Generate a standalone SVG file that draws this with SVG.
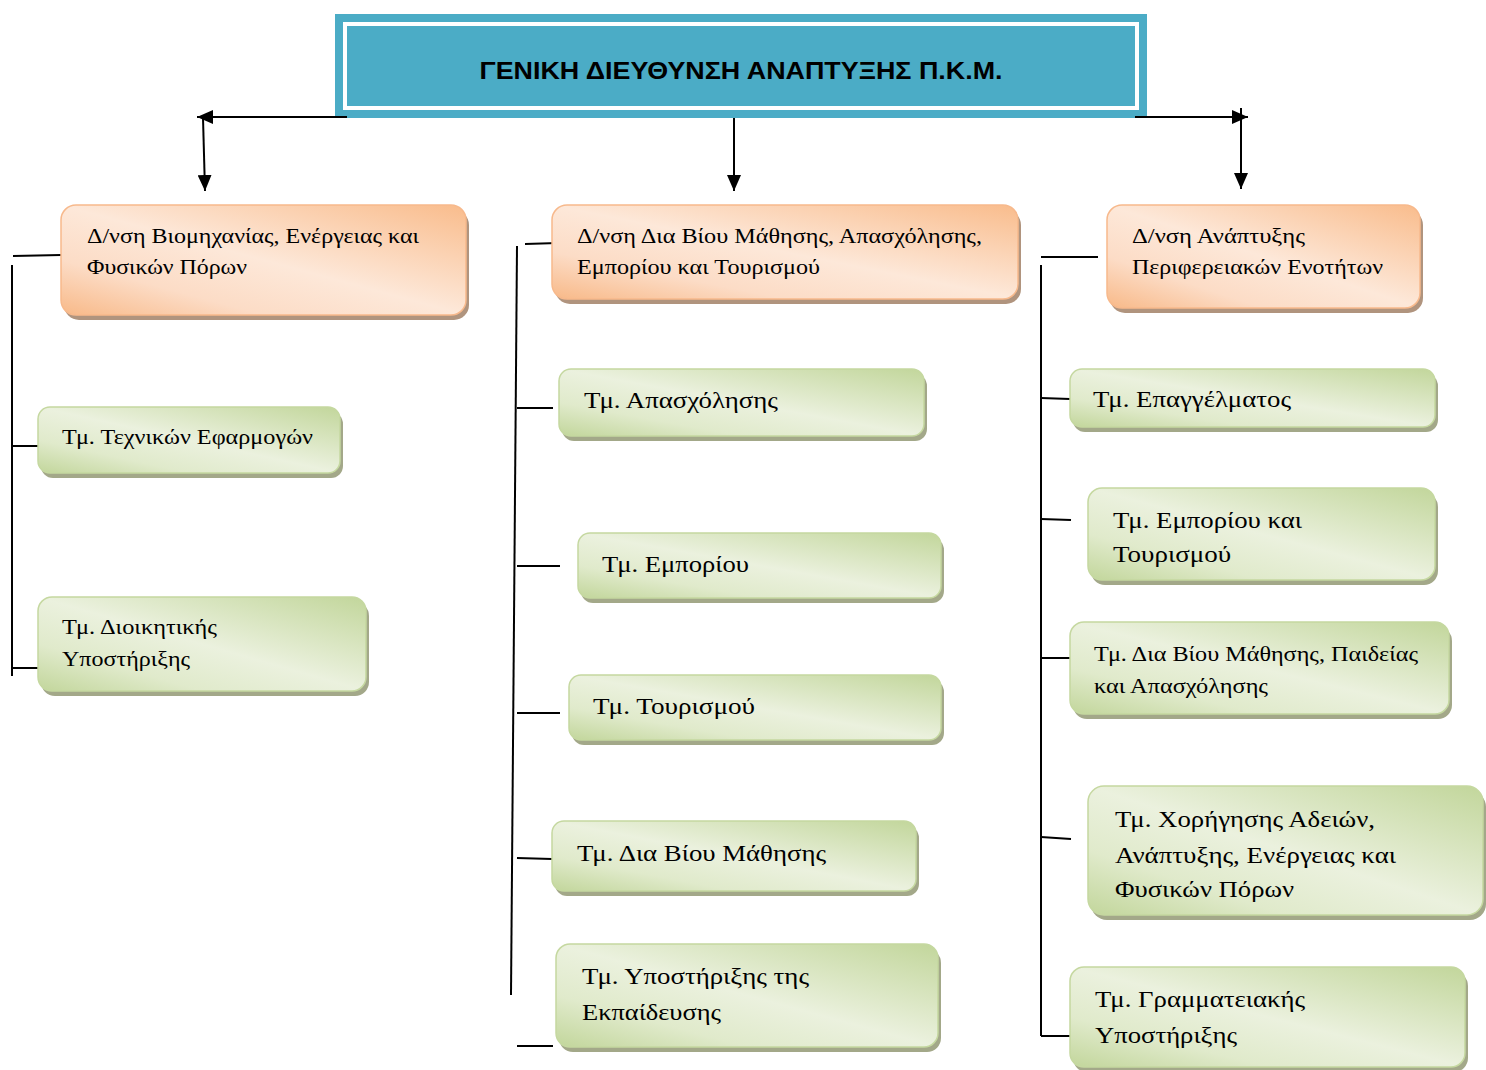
<svg xmlns="http://www.w3.org/2000/svg" width="1486" height="1070" viewBox="0 0 1486 1070">
<defs>
<linearGradient id="og" x1="1" y1="0" x2="0" y2="1">
<stop offset="0" stop-color="#f9bc8c"/>
<stop offset="0.5" stop-color="#fde8d9"/>
<stop offset="0.75" stop-color="#fcdcc6"/>
<stop offset="1" stop-color="#f8b988"/>
</linearGradient>
<linearGradient id="gg" x1="1" y1="0" x2="0" y2="1">
<stop offset="0" stop-color="#c2d69b"/>
<stop offset="0.5" stop-color="#ebf1de"/>
<stop offset="0.75" stop-color="#e0eacb"/>
<stop offset="1" stop-color="#c2d69b"/>
</linearGradient>
<marker id="ah" viewBox="0 0 16 14" refX="16" refY="7" markerWidth="16" markerHeight="14" markerUnits="userSpaceOnUse" orient="auto">
<path d="M0,0 L16,7 L0,14 z" fill="#000"/>
</marker>
<style>
.os{fill:#b0947e}
.ob{fill:url(#og);stroke:#f7b98c;stroke-width:1.5}
.gs{fill:#a3a889}
.gb{fill:url(#gg);stroke:#c5d8a0;stroke-width:1.5}
.t{font-family:"Liberation Serif","Times New Roman",serif;fill:#000}
.s21{font-size:21.5px}
.s22{font-size:22px}
.s24{font-size:24px}
.c{stroke:#000;stroke-width:2;fill:none}
.ar{marker-end:url(#ah)}
</style>
</defs>
<rect width="1486" height="1070" fill="#fff"/>

<g id="header">
<rect x="335" y="14" width="812" height="104" fill="#4bacc6"/>
<rect x="345" y="24" width="792" height="84" fill="none" stroke="#fff" stroke-width="4"/>
<text x="741" y="78.5" text-anchor="middle" font-family="'Liberation Sans',Arial,sans-serif" font-weight="bold" font-size="23" textLength="523" lengthAdjust="spacingAndGlyphs">ΓΕΝΙΚΗ ΔΙΕΥΘΥΝΣΗ ΑΝΑΠΤΥΞΗΣ Π.Κ.Μ.</text>
</g>

<g id="connectors">
<line class="c ar" x1="347" y1="117" x2="197" y2="117"/>
<line class="c ar" x1="203" y1="118" x2="205" y2="191"/>
<line class="c ar" x1="734" y1="118" x2="734" y2="191"/>
<line class="c ar" x1="1135" y1="117" x2="1248" y2="117"/>
<line class="c ar" x1="1241" y1="108" x2="1241" y2="189"/>
<line class="c" x1="13" y1="256" x2="61" y2="255"/>
<line class="c" x1="12" y1="265" x2="12" y2="676"/>
<line class="c" x1="12" y1="446" x2="38" y2="446"/>
<line class="c" x1="12" y1="668" x2="38" y2="668"/>
<line class="c" x1="517" y1="246" x2="511" y2="995"/>
<line class="c" x1="525" y1="244" x2="558" y2="243"/>
<line class="c" x1="517" y1="408" x2="553" y2="408"/>
<line class="c" x1="517" y1="566" x2="560" y2="566"/>
<line class="c" x1="517" y1="713" x2="560" y2="713"/>
<line class="c" x1="517" y1="858" x2="552" y2="859"/>
<line class="c" x1="517" y1="1046" x2="553" y2="1046"/>
<line class="c" x1="1041" y1="265" x2="1041" y2="1036"/>
<line class="c" x1="1041" y1="257" x2="1098" y2="257"/>
<line class="c" x1="1041" y1="398" x2="1070" y2="399"/>
<line class="c" x1="1041" y1="519" x2="1071" y2="520"/>
<line class="c" x1="1041" y1="658" x2="1070" y2="658"/>
<line class="c" x1="1041" y1="837" x2="1071" y2="839"/>
<line class="c" x1="1041" y1="1036" x2="1070" y2="1036"/>
</g>

<g id="dir-industry">
<rect class="os" x="64" y="210" width="405" height="110" rx="15"/>
<rect class="ob" x="61" y="205" width="405" height="110" rx="15"/>
<text class="t s21" x="87" y="243" textLength="332" lengthAdjust="spacingAndGlyphs">Δ/νση Βιομηχανίας, Ενέργειας και</text>
<text class="t s21" x="87" y="274" textLength="160" lengthAdjust="spacingAndGlyphs">Φυσικών Πόρων</text>
</g>

<g id="dir-lifelong">
<rect class="os" x="555" y="210" width="466" height="94" rx="15"/>
<rect class="ob" x="552" y="205" width="466" height="94" rx="15"/>
<text class="t s21" x="577" y="243" textLength="405" lengthAdjust="spacingAndGlyphs">Δ/νση Δια Βίου Μάθησης, Απασχόλησης,</text>
<text class="t s21" x="577" y="274" textLength="243" lengthAdjust="spacingAndGlyphs">Εμπορίου και Τουρισμού</text>
</g>

<g id="dir-regional">
<rect class="os" x="1110" y="210" width="313" height="103" rx="15"/>
<rect class="ob" x="1107" y="205" width="313" height="103" rx="15"/>
<text class="t s21" x="1132" y="243" textLength="173" lengthAdjust="spacingAndGlyphs">Δ/νση Ανάπτυξης</text>
<text class="t s21" x="1132" y="274" textLength="251" lengthAdjust="spacingAndGlyphs">Περιφερειακών Ενοτήτων</text>
</g>

<g id="tm-technical">
<rect class="gs" x="41" y="412" width="302" height="66" rx="12"/>
<rect class="gb" x="38" y="407" width="302" height="66" rx="12"/>
<text class="t s21" x="62" y="444" textLength="251" lengthAdjust="spacingAndGlyphs">Τμ. Τεχνικών Εφαρμογών</text>
</g>

<g id="tm-admin">
<rect class="gs" x="41" y="602" width="328" height="94" rx="14"/>
<rect class="gb" x="38" y="597" width="328" height="94" rx="14"/>
<text class="t s21" x="62" y="634" textLength="155" lengthAdjust="spacingAndGlyphs">Τμ. Διοικητικής</text>
<text class="t s21" x="62" y="666" textLength="128" lengthAdjust="spacingAndGlyphs">Υποστήριξης</text>
</g>

<g id="tm-employment">
<rect class="gs" x="562" y="374" width="365" height="67" rx="12"/>
<rect class="gb" x="559" y="369" width="365" height="67" rx="12"/>
<text class="t s24" x="584" y="408" textLength="194" lengthAdjust="spacingAndGlyphs">Τμ. Απασχόλησης</text>
</g>

<g id="tm-commerce">
<rect class="gs" x="581" y="538" width="363" height="65" rx="12"/>
<rect class="gb" x="578" y="533" width="363" height="65" rx="12"/>
<text class="t s24" x="602" y="572" textLength="147" lengthAdjust="spacingAndGlyphs">Τμ. Εμπορίου</text>
</g>

<g id="tm-tourism">
<rect class="gs" x="572" y="680" width="372" height="65" rx="12"/>
<rect class="gb" x="569" y="675" width="372" height="65" rx="12"/>
<text class="t s24" x="593" y="714" textLength="162" lengthAdjust="spacingAndGlyphs">Τμ. Τουρισμού</text>
</g>

<g id="tm-lifelong">
<rect class="gs" x="555" y="826" width="364" height="70" rx="12"/>
<rect class="gb" x="552" y="821" width="364" height="70" rx="12"/>
<text class="t s24" x="577" y="861" textLength="249" lengthAdjust="spacingAndGlyphs">Τμ. Δια Βίου Μάθησης</text>
</g>

<g id="tm-education-support">
<rect class="gs" x="559" y="949" width="382" height="103" rx="14"/>
<rect class="gb" x="556" y="944" width="382" height="103" rx="14"/>
<text class="t s24" x="582" y="984" textLength="227" lengthAdjust="spacingAndGlyphs">Τμ. Υποστήριξης της</text>
<text class="t s24" x="582" y="1020" textLength="139" lengthAdjust="spacingAndGlyphs">Εκπαίδευσης</text>
</g>

<g id="tm-profession">
<rect class="gs" x="1073" y="374" width="365" height="58" rx="12"/>
<rect class="gb" x="1070" y="369" width="365" height="58" rx="12"/>
<text class="t s24" x="1093" y="407" textLength="198" lengthAdjust="spacingAndGlyphs">Τμ. Επαγγέλματος</text>
</g>

<g id="tm-commerce-tourism">
<rect class="gs" x="1091" y="493" width="347" height="92" rx="14"/>
<rect class="gb" x="1088" y="488" width="347" height="92" rx="14"/>
<text class="t s24" x="1113" y="528" textLength="189" lengthAdjust="spacingAndGlyphs">Τμ. Εμπορίου και</text>
<text class="t s24" x="1113" y="562" textLength="118" lengthAdjust="spacingAndGlyphs">Τουρισμού</text>
</g>

<g id="tm-lifelong-education">
<rect class="gs" x="1073" y="627" width="379" height="92" rx="14"/>
<rect class="gb" x="1070" y="622" width="379" height="92" rx="14"/>
<text class="t s22" x="1094" y="661" textLength="324" lengthAdjust="spacingAndGlyphs">Τμ. Δια Βίου Μάθησης, Παιδείας</text>
<text class="t s22" x="1094" y="693" textLength="174" lengthAdjust="spacingAndGlyphs">και Απασχόλησης</text>
</g>

<g id="tm-licensing">
<rect class="gs" x="1091" y="791" width="395" height="129" rx="16"/>
<rect class="gb" x="1088" y="786" width="395" height="129" rx="16"/>
<text class="t s24" x="1115" y="827" textLength="260" lengthAdjust="spacingAndGlyphs">Τμ. Χορήγησης Αδειών,</text>
<text class="t s24" x="1115" y="863" textLength="281" lengthAdjust="spacingAndGlyphs">Ανάπτυξης, Ενέργειας και</text>
<text class="t s24" x="1115" y="897" textLength="179" lengthAdjust="spacingAndGlyphs">Φυσικών Πόρων</text>
</g>

<g id="tm-secretariat">
<rect class="gs" x="1073" y="972" width="395" height="100" rx="14"/>
<rect class="gb" x="1070" y="967" width="395" height="100" rx="14"/>
<text class="t s24" x="1095" y="1007" textLength="210" lengthAdjust="spacingAndGlyphs">Τμ. Γραμματειακής</text>
<text class="t s24" x="1095" y="1043" textLength="142" lengthAdjust="spacingAndGlyphs">Υποστήριξης</text>
</g>
</svg>
